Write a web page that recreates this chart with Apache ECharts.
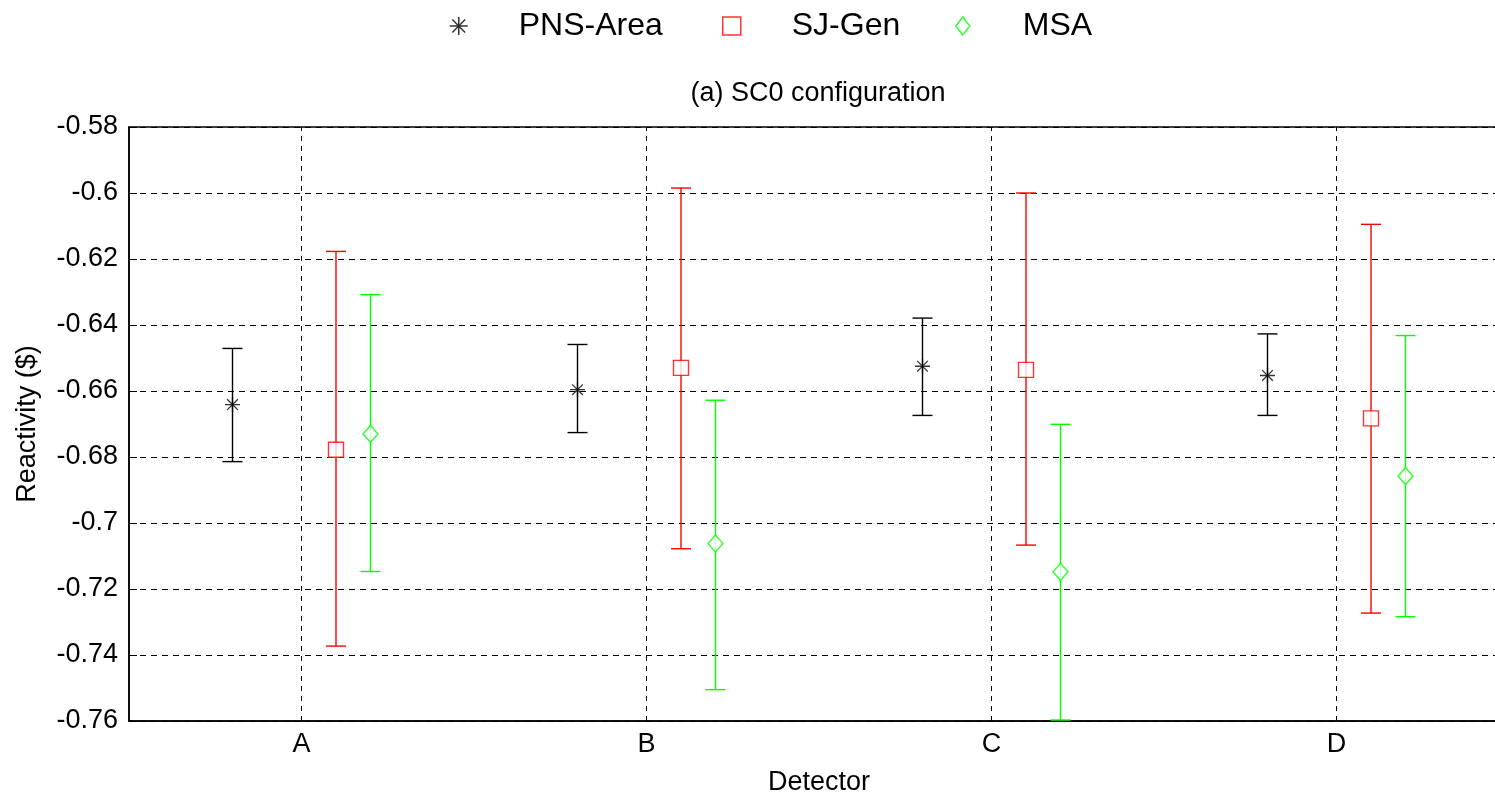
<!DOCTYPE html>
<html>
<head>
    <meta charset="utf-8">
    <title>SC0 configuration</title>
    <script src="https://cdn.jsdelivr.net/npm/echarts@6/dist/echarts.min.js"></script>
    <style>
        html, body { margin: 0; padding: 0; background: #fff; overflow: hidden; }
        /* the axes box runs past the right edge of the picture, so the chart is wider than the page */
        #chart1 { width: 1535px; height: 801px; margin-left: -20px; }
    </style>
</head>
<body>
<div id="chart1"></div>
<script type="text/javascript">
// detectors on the x axis (1..4)
var detectors = ['A', 'B', 'C', 'D'];

// PNS-Area
var pnsMean = [-0.6641, -0.6596, -0.6525, -0.6553];
var pnsLow  = [-0.6814, -0.6726, -0.6674, -0.6674];
var pnsHigh = [-0.6471, -0.6459, -0.6379, -0.6427];

// SJ-Gen
var sjMean = [-0.6778, -0.6530, -0.6536, -0.6683];
var sjLow  = [-0.7373, -0.7078, -0.7067, -0.7273];
var sjHigh = [-0.6177, -0.5985, -0.6000, -0.6095];

// MSA
var msaMean = [-0.6730, -0.7062, -0.7148, -0.6858];
var msaLow  = [-0.7147, -0.7505, -0.7597, -0.7284];
var msaHigh = [-0.6308, -0.6628, -0.6701, -0.6432];

// horizontal shift of each group around the detector position
var pnsShift = -0.2, sjShift = 0.1, msaShift = 0.2;

var FONT = '"Liberation Sans", Arial, sans-serif';
var starPath = 'path://M8,0L8,16M0,8L16,8M2.3,2.3L13.7,13.7M13.7,2.3L2.3,13.7';
var squarePath = 'path://M0,0L16,0L16,16L0,16Z';
var diamondPath = 'path://M7,0L14,9L7,18L0,9Z';

function points(mean, shift) {
    return mean.map(function (v, i) { return [i + 1 + shift, v]; });
}
function bars(low, high, shift) {
    return low.map(function (v, i) { return [i + 1 + shift, v, high[i]]; });
}

function errorBar(params, api) {
    var x = api.value(0);
    var lo = api.coord([x, api.value(1)]);
    var hi = api.coord([x, api.value(2)]);
    var w = 10;
    var st = { stroke: api.visual('color'), lineWidth: 1.4 };
    return {
        type: 'group',
        children: [
            { type: 'line', shape: { x1: lo[0], y1: lo[1], x2: hi[0], y2: hi[1] }, style: st },
            { type: 'line', shape: { x1: lo[0] - w, y1: lo[1], x2: lo[0] + w, y2: lo[1] }, style: st },
            { type: 'line', shape: { x1: hi[0] - w, y1: hi[1], x2: hi[0] + w, y2: hi[1] }, style: st }
        ]
    };
}

// one legend per entry so the wide spacing of the original can be kept
function legendFor(left, item) {
    return {
        left: left,
        top: 10,
        padding: 0,
        itemWidth: 110,
        itemHeight: 18,
        textStyle: { fontFamily: FONT, fontSize: 32, color: '#000' },
        data: [item]
    };
}

var myChart1 = echarts.init(document.getElementById('chart1'));

myChart1.setOption({
    animation: false,
    backgroundColor: '#fff',
    title: {
        text: '(a) SC0 configuration',
        left: 838,
        textAlign: 'center',
        top: 80,
        padding: 0,
        textStyle: { fontFamily: FONT, fontSize: 27, fontWeight: 'normal', color: '#000' }
    },
    legend: [
        legendFor(469, { name: 'PNS-Area', icon: starPath, itemStyle: { color: 'transparent', borderColor: '#000', borderWidth: 1.5 } }),
        legendFor(742, { name: 'SJ-Gen', icon: squarePath, itemStyle: { color: 'transparent', borderColor: '#ff0000', borderWidth: 1.5 } }),
        legendFor(975, { name: 'MSA', icon: diamondPath, itemStyle: { color: 'transparent', borderColor: '#00ff00', borderWidth: 1.5 } })
    ],
    grid: {
        left: 149,
        top: 127,
        width: 1380,
        height: 599,
        show: true,
        borderColor: '#000',
        borderWidth: 1.5,
        backgroundColor: '#fff'
    },
    xAxis: {
        type: 'value',
        min: 0.5,
        max: 4.5,
        interval: 0.5,
        name: 'Detector',
        nameLocation: 'middle',
        nameGap: 48,
        nameTextStyle: { fontFamily: FONT, fontSize: 27, color: '#000' },
        axisLine: { lineStyle: { color: '#000', width: 1.5 } },
        axisTick: { show: false },
        splitLine: { show: false },
        axisLabel: {
            fontFamily: FONT,
            fontSize: 27,
            color: '#000',
            margin: 10,
            formatter: function (v) {
                return (Math.abs(v - Math.round(v)) < 1e-6 && v >= 1 && v <= 4) ? detectors[Math.round(v) - 1] : '';
            }
        }
    },
    yAxis: {
        type: 'value',
        min: -0.76,
        max: -0.58,
        interval: 0.02,
        name: 'Reactivity ($)',
        nameLocation: 'middle',
        nameGap: 88,
        nameTextStyle: { fontFamily: FONT, fontSize: 27, color: '#000' },
        axisLine: { lineStyle: { color: '#000', width: 1.5 } },
        axisTick: { show: true, inside: true, length: 8, lineStyle: { color: '#000' } },
        axisLabel: { fontFamily: FONT, fontSize: 27, color: '#000', margin: 11 },
        splitLine: { show: true, lineStyle: { color: '#000', type: [6, 5], width: 1 } }
    },
    series: [
        {
            name: 'PNS-Area bars',
            type: 'custom',
            renderItem: errorBar,
            itemStyle: { color: '#000' },
            encode: { x: 0, y: [1, 2] },
            data: bars(pnsLow, pnsHigh, pnsShift),
            z: 3,
            markLine: {
                silent: true,
                symbol: 'none',
                label: { show: false },
                lineStyle: { color: '#000', type: [5, 5], width: 1 },
                data: detectors.map(function (d, i) { return { xAxis: i + 1 }; })
            }
        },
        {
            name: 'SJ-Gen bars',
            type: 'custom',
            renderItem: errorBar,
            itemStyle: { color: '#ff0000' },
            encode: { x: 0, y: [1, 2] },
            data: bars(sjLow, sjHigh, sjShift),
            z: 3
        },
        {
            name: 'MSA bars',
            type: 'custom',
            renderItem: errorBar,
            itemStyle: { color: '#00ff00' },
            encode: { x: 0, y: [1, 2] },
            data: bars(msaLow, msaHigh, msaShift),
            z: 3
        },
        {
            name: 'PNS-Area',
            type: 'scatter',
            symbol: starPath,
            symbolSize: 15,
            itemStyle: { color: 'transparent', borderColor: '#000', borderWidth: 1.3 },
            data: points(pnsMean, pnsShift),
            z: 4
        },
        {
            name: 'SJ-Gen',
            type: 'scatter',
            symbol: 'rect',
            symbolSize: 15,
            itemStyle: { color: '#fff', borderColor: '#ff0000', borderWidth: 1.4 },
            data: points(sjMean, sjShift),
            z: 4
        },
        {
            name: 'MSA',
            type: 'scatter',
            symbol: 'diamond',
            symbolSize: [15, 17],
            itemStyle: { color: '#fff', borderColor: '#00ff00', borderWidth: 1.4 },
            data: points(msaMean, msaShift),
            z: 4
        }
    ]
});
</script>
</body>
</html>
